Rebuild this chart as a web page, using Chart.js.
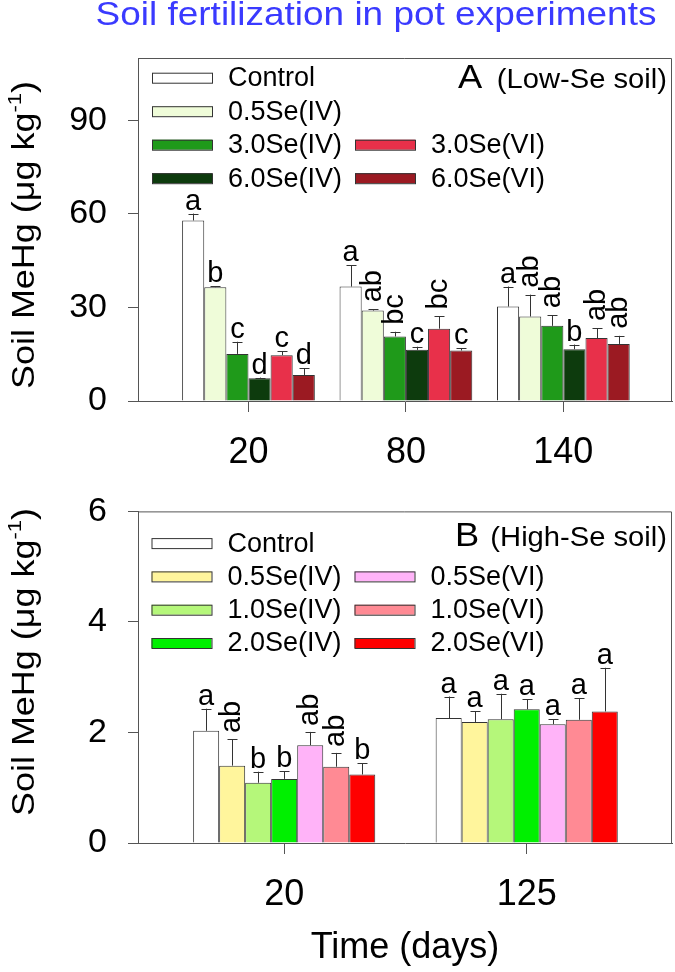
<!DOCTYPE html>
<html>
<head>
<meta charset="utf-8">
<script src="https://cdn.jsdelivr.net/npm/chart.js@4.4.0/dist/chart.umd.min.js"></script>
<style>
  body { margin: 0; background: #fff; }
  #wrap { position: relative; width: 675px; height: 972px; overflow: hidden; font-family: "Liberation Sans", Arial, sans-serif; }
  #title { position: absolute; top: -5px; left: 376px; white-space: nowrap; font-size: 33px; line-height: 38px; color: #3a3aff; transform: translateX(-50%) scaleX(1.12); }
  canvas { position: absolute; left: 0; }
  #chartA { top: 0; width: 675px; height: 470px; }
  #chartB { top: 470px; width: 675px; height: 502px; }
</style>
</head>
<body>
<div id="wrap">
  <canvas id="chartA" width="675" height="470"></canvas>
  <canvas id="chartB" width="675" height="502"></canvas>
  <div id="title">Soil fertilization in pot experiments</div>
</div>
<script>
// ---- panel A (low-Se soil) ----
var daysA = [20, 80, 140];
var yTicksA = [0, 30, 60, 90];
var namesA = ['Control', '0.5Se(IV)', '3.0Se(IV)', '6.0Se(IV)', '3.0Se(VI)', '6.0Se(VI)'];
var colorsA = ['#ffffff', '#effcd9', '#1f9a1a', '#0d3b0d', '#e8304a', '#9b1a22'];

var ctrlA = [57.9, 36.7, 30.3],  ctrlA_sd = [2.2, 6.9, 6.4],  ctrlA_lt = ['a', 'a', 'a'];
var iv05A = [36.5, 29.0, 27.1],  iv05A_sd = [0.3, 0.4, 7.0],  iv05A_lt = ['b', 'ab', 'ab'];
var iv30A = [15.1, 20.7, 24.1],  iv30A_sd = [3.9, 1.5, 3.4],  iv30A_lt = ['c', 'bc', 'ab'];
var iv60A = [7.3, 16.4, 16.6],   iv60A_sd = [0.2, 1.0, 1.5],  iv60A_lt = ['d', 'c', 'b'];
var vi30A = [14.7, 23.2, 20.2],  vi30A_sd = [1.3, 3.9, 3.2],  vi30A_lt = ['c', 'bc', 'ab'];
var vi60A = [8.35, 16.2, 18.3],  vi60A_sd = [2.1, 0.8, 2.6],  vi60A_lt = ['d', 'c', 'ab'];

// ---- panel B (high-Se soil) ----
var daysB = [20, 125];
var yTicksB = [0, 2, 4, 6];
var namesB = ['Control', '0.5Se(IV)', '1.0Se(IV)', '2.0Se(IV)', '0.5Se(VI)', '1.0Se(VI)', '2.0Se(VI)'];
var colorsB = ['#ffffff', '#fff59c', '#b5f77a', '#00f000', '#ffb3f8', '#ff8a94', '#ff0000'];

var ctrlB = [2.03, 2.26], ctrlB_sd = [0.40, 0.39], ctrlB_lt = ['a', 'a'];
var iv05B = [1.40, 2.19], iv05B_sd = [0.48, 0.19], iv05B_lt = ['ab', 'a'];
var iv10B = [1.09, 2.24], iv10B_sd = [0.20, 0.46], iv10B_lt = ['b', 'a'];
var iv20B = [1.16, 2.42], iv20B_sd = [0.14, 0.18], iv20B_lt = ['b', 'a'];
var vi05B = [1.77, 2.15], vi05B_sd = [0.24, 0.09], vi05B_lt = ['ab', 'a'];
var vi10B = [1.38, 2.23], vi10B_sd = [0.25, 0.39], vi10B_lt = ['ab', 'a'];
var vi20B = [1.24, 2.38], vi20B_sd = [0.20, 0.79], vi20B_lt = ['b', 'a'];

var FONT = '"Liberation Sans", Arial, sans-serif';
Chart.defaults.font.family = FONT;
Chart.defaults.color = '#000';

function makeSet(label, color, days, vals, sd, lt) {
  return {
    label: label,
    data: days.map(function (d, i) { return { x: d, y: vals[i] }; }),
    backgroundColor: color,
    borderColor: '#333',
    borderWidth: 1,
    errors: sd,
    letters: lt
  };
}

function stretchText(ctx, txt, x, y, sx) {
  ctx.save();
  ctx.translate(x, y);
  ctx.scale(sx, 1);
  ctx.fillText(txt, 0, 0);
  ctx.restore();
}

// frame, error bars, letters, legend, panel label, y title
var decor = {
  id: 'decor',
  afterDatasetsDraw: function (chart, args, opts) {
    var ctx = chart.ctx, area = chart.chartArea, ys = chart.scales.y;
    ctx.save();
    ctx.strokeStyle = '#555';
    ctx.lineWidth = 1;
    ctx.beginPath();
    ctx.moveTo(area.left, area.top + 0.5);
    ctx.lineTo(area.right - 0.5, area.top + 0.5);
    ctx.lineTo(area.right - 0.5, area.bottom);
    ctx.stroke();

    chart.data.datasets.forEach(function (ds, di) {
      var meta = chart.getDatasetMeta(di);
      meta.data.forEach(function (bar, i) {
        var top = ys.getPixelForValue(ds.data[i].y + ds.errors[i]);
        var bx = Math.round(bar.x) + 0.5;
        ctx.strokeStyle = '#333';
        ctx.beginPath();
        ctx.moveTo(bx, bar.y);
        ctx.lineTo(bx, top);
        ctx.moveTo(bx - 5, Math.round(top) + 0.5);
        ctx.lineTo(bx + 5, Math.round(top) + 0.5);
        ctx.stroke();
        var lt = ds.letters[i];
        ctx.fillStyle = '#000';
        ctx.font = '29px ' + FONT;
        if (lt.length > 1) {
          ctx.save();
          ctx.translate(bar.x, top - opts.rotGap);
          ctx.rotate(-Math.PI / 2);
          ctx.textAlign = 'left';
          ctx.textBaseline = 'middle';
          ctx.fillText(lt, 0, 0);
          ctx.restore();
        } else {
          ctx.textAlign = 'center';
          ctx.textBaseline = 'alphabetic';
          ctx.fillText(lt, bar.x, top - 4);
        }
      });
    });

    // legend
    var lg = opts.legend;
    ctx.font = '27px ' + FONT;
    ctx.textAlign = 'left';
    ctx.textBaseline = 'middle';
    chart.data.datasets.forEach(function (ds, di) {
      var slot = lg.slots[di];
      var bx = area.left + lg.x + slot[0] * lg.colGap;
      var by = area.top + lg.y + slot[1] * lg.rowGap;
      ctx.fillStyle = ds.backgroundColor;
      ctx.fillRect(bx, by - 5, 60, 10);
      ctx.strokeStyle = '#333';
      ctx.strokeRect(bx + 0.5, by - 4.5, 60, 10);
      ctx.fillStyle = '#000';
      ctx.fillText(ds.label, bx + 76, by + 1);
    });

    // panel label
    var pn = opts.panel;
    ctx.textBaseline = 'alphabetic';
    ctx.font = '33px ' + FONT;
    ctx.textAlign = 'left';
    stretchText(ctx, pn.big, pn.x, area.top + pn.dy, 1.1);
    ctx.font = '27px ' + FONT;
    ctx.textAlign = 'right';
    stretchText(ctx, pn.small, area.right - 5, area.top + pn.dy, 1.08);

    // y title with superscript
    var yt = opts.yTitle, size = 31, sx = 1.16;
    ctx.save();
    ctx.translate(34, yt.cy);
    ctx.rotate(-Math.PI / 2);
    ctx.scale(sx, 1);
    ctx.textAlign = 'left';
    ctx.textBaseline = 'alphabetic';
    ctx.font = size + 'px ' + FONT;
    var main = 'Soil MeHg (\u03bcg kg', close = ')';
    var wMain = ctx.measureText(main).width, wClose = ctx.measureText(close).width;
    ctx.font = Math.round(size * 0.62) + 'px ' + FONT;
    var wSup = ctx.measureText('-1').width;
    var x0 = -(wMain + wSup + wClose) / 2;
    ctx.font = size + 'px ' + FONT;
    ctx.fillText(main, x0, 0);
    ctx.fillText(close, x0 + wMain + wSup, 0);
    ctx.font = Math.round(size * 0.62) + 'px ' + FONT;
    ctx.fillText('-1', x0 + wMain, -size * 0.42);
    ctx.restore();

    ctx.restore();
  }
};

function makeChart(id, days, sets, o) {
  return new Chart(document.getElementById(id), {
    type: 'bar',
    data: { datasets: sets },
    plugins: [decor],
    options: {
      responsive: false,
      animation: false,
      layout: { padding: { top: o.padTop, right: 3, left: 0, bottom: 0 } },
      datasets: { bar: { categoryPercentage: o.catPct, barPercentage: 1.0 } },
      plugins: {
        legend: { display: false },
        tooltip: { enabled: false },
        decor: o.decor
      },
      scales: {
        x: {
          type: 'linear',
          min: o.xMin,
          max: o.xMax,
          offset: false,
          afterBuildTicks: function (s) { s.ticks = days.map(function (d) { return { value: d }; }); },
          afterFit: function (s) { s.height = o.xHeight; },
          grid: { offset: false, drawOnChartArea: false, tickLength: 11, color: '#555' },
          border: { color: '#555' },
          ticks: { font: { size: 36 }, color: '#000', padding: 19, maxRotation: 0 },
          title: o.xTitle
        },
        y: {
          min: 0,
          max: o.yMax,
          afterBuildTicks: function (s) { s.ticks = o.yTicks.map(function (v) { return { value: v }; }); },
          afterFit: function (s) { s.width = 138; },
          grid: { drawOnChartArea: false, tickLength: 10, color: '#555' },
          border: { color: '#555' },
          ticks: { font: { size: 34 }, color: '#000', padding: 21 }
        }
      }
    }
  });
}

var setsA = [
  makeSet(namesA[0], colorsA[0], daysA, ctrlA, ctrlA_sd, ctrlA_lt),
  makeSet(namesA[1], colorsA[1], daysA, iv05A, iv05A_sd, iv05A_lt),
  makeSet(namesA[2], colorsA[2], daysA, iv30A, iv30A_sd, iv30A_lt),
  makeSet(namesA[3], colorsA[3], daysA, iv60A, iv60A_sd, iv60A_lt),
  makeSet(namesA[4], colorsA[4], daysA, vi30A, vi30A_sd, vi30A_lt),
  makeSet(namesA[5], colorsA[5], daysA, vi60A, vi60A_sd, vi60A_lt)
];

var setsB = [
  makeSet(namesB[0], colorsB[0], daysB, ctrlB, ctrlB_sd, ctrlB_lt),
  makeSet(namesB[1], colorsB[1], daysB, iv05B, iv05B_sd, iv05B_lt),
  makeSet(namesB[2], colorsB[2], daysB, iv10B, iv10B_sd, iv10B_lt),
  makeSet(namesB[3], colorsB[3], daysB, iv20B, iv20B_sd, iv20B_lt),
  makeSet(namesB[4], colorsB[4], daysB, vi05B, vi05B_sd, vi05B_lt),
  makeSet(namesB[5], colorsB[5], daysB, vi10B, vi10B_sd, vi10B_lt),
  makeSet(namesB[6], colorsB[6], daysB, vi20B, vi20B_sd, vi20B_lt)
];

makeChart('chartA', daysA, setsA, {
  padTop: 58, xHeight: 69, xMin: -22.1, xMax: 181.4, catPct: 0.843,
  yMax: 110, yTicks: yTicksA,
  xTitle: { display: false },
  decor: {
    rotGap: 7,
    legend: { x: 14, y: 19.7, colGap: 203, rowGap: 33.5, slots: [[0, 0], [0, 1], [0, 2], [0, 3], [1, 2], [1, 3]] },
    panel: { big: 'A', small: '(Low-Se soil)', x: 458, dy: 30 },
    yTitle: { cy: 235 }
  }
});

makeChart('chartB', daysB, setsB, {
  padTop: 30, xHeight: 129, xMin: -43.3, xMax: 187.9, catPct: 0.751,
  yMax: 6, yTicks: yTicksB,
  xTitle: { display: true, text: 'Time (days)', font: { size: 36 }, color: '#000', padding: { top: 0, bottom: 2 } },
  decor: {
    rotGap: 6,
    legend: { x: 13.5, y: 31.7, colGap: 203, rowGap: 33.3, slots: [[0, 0], [0, 1], [0, 2], [0, 3], [1, 1], [1, 2], [1, 3]] },
    panel: { big: 'B', small: '(High-Se soil)', x: 455, dy: 35 },
    yTitle: { cy: 192 }
  }
});
</script>
</body>
</html>
